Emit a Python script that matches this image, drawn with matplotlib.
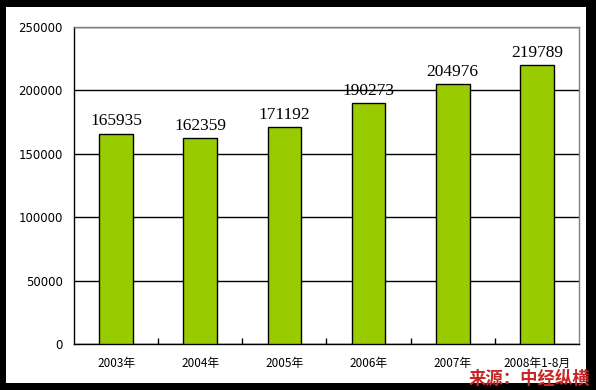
import matplotlib.pyplot as plt
from matplotlib.patches import Rectangle

# Data
years = ["2003年", "2004年", "2005年", "2006年", "2007年", "2008年1-8月"]
values = [165935, 162359, 171192, 190273, 204976, 219789]
y_ticks = [0, 50000, 100000, 150000, 200000, 250000]

W, H = 596, 390
fig = plt.figure(figsize=(W / 100, H / 100), dpi=100)
fig.patch.set_facecolor("black")
fig.patches.append(Rectangle((6 / W, 7 / H), 580 / W, 376 / H,
                             transform=fig.transFigure, facecolor="white",
                             edgecolor="none", zorder=-10))

ax = fig.add_axes([74 / W, 46 / H, 505 / W, 317 / H])
ax.set_zorder(1)
x = list(range(len(years)))
ax.bar(x, values, width=0.4, color="#99CC00", edgecolor="black",
       linewidth=1.0, zorder=3)

for xi, v in zip(x, values):
    ax.annotate(str(v), (xi, v), xytext=(0, 3), textcoords="offset points",
                ha="center", va="bottom", fontsize=12.5,
                family="Liberation Serif", zorder=4)

ax.set_xlim(-0.5, len(years) - 0.5)
ax.set_ylim(0, 250000)
ax.set_yticks(y_ticks)
ax.set_yticklabels([str(t) for t in y_ticks], fontsize=8.5,
                   family="DejaVu Sans")
ax.tick_params(axis="y", length=0, pad=8)

ax.set_xticks(x)
ax.set_xticklabels(years, fontsize=8.5,
                   family=["Noto Sans CJK SC", "DejaVu Sans"])
ax.set_xticks([i + 0.5 for i in x[:-1]], minor=True)
ax.tick_params(axis="x", which="major", length=0, pad=9)
ax.tick_params(axis="x", which="minor", direction="in", length=4,
               width=1, color="black")

ax.yaxis.grid(True, color="black", linewidth=1.0, zorder=1)
ax.set_axisbelow(True)
for side in ("left", "bottom"):
    ax.spines[side].set_color("black")
    ax.spines[side].set_linewidth(1.0)
for side in ("top", "right"):
    ax.spines[side].set_color("#808080")
    ax.spines[side].set_linewidth(1.0)

fig.text(590 / W, 1 - 379 / H, "来源：中经纵横", ha="right", va="center",
         fontsize=12.5, fontweight="bold", color="#C62828", zorder=5,
         family=["Noto Sans CJK SC", "DejaVu Sans"])

fig.savefig("out.png", dpi=100, facecolor=fig.get_facecolor())
